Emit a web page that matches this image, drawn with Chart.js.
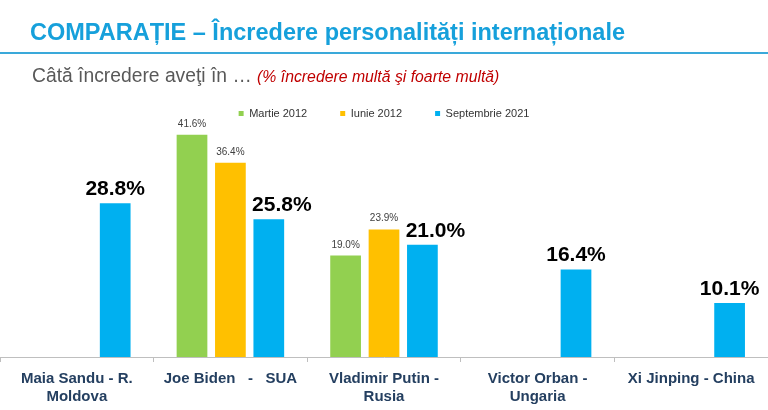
<!DOCTYPE html>
<html>
<head>
<meta charset="utf-8">
<script src="https://cdn.jsdelivr.net/npm/chart.js@4"></script>
<style>
  body { margin: 0; background: #fff; }
  #wrap { position: relative; width: 768px; height: 410px; overflow: hidden; }
  #title { position: absolute; left: 30px; top: 19px; font-family: Arial, 'Liberation Sans', sans-serif; font-weight: bold; font-size: 23.5px; color: #16a0db; white-space: nowrap; }
  #rule { position: absolute; left: 0; top: 52px; width: 768px; height: 2px; background: #3aa9da; }
  #sub { position: absolute; left: 32px; top: 65px; font-family: Arial, 'Liberation Sans', sans-serif; font-size: 19.3px; color: #595959; white-space: nowrap; }
  #sub i { font-size: 15.8px; color: #c00000; }
  canvas { position: absolute; left: 0; top: 0; }
</style>
</head>
<body>
<div id="wrap">
  <canvas id="chart" width="768" height="414"></canvas>
  <div id="title">COMPARAȚIE – Încredere personalități internaționale</div>
  <div id="rule"></div>
  <div id="sub">Câtă încredere aveţi în … <i>(% încredere multă şi foarte multă)</i></div>
</div>
<script>
const categories = [
  ['Maia Sandu - R.', 'Moldova'],
  'Joe Biden   -   SUA',
  ['Vladimir Putin -', 'Rusia'],
  ['Victor Orban -', 'Ungaria'],
  'Xi Jinping - China'
]
const seriesNames = ['Martie 2012', 'Iunie 2012', 'Septembrie 2021']
const martie2012 = [null, 41.6, 19.0, null, null]
const iunie2012 = [null, 36.4, 23.9, null, null]
const septembrie2021 = [28.8, 25.8, 21.0, 16.4, 10.1]

// labels above the bars: small grey for 2012, big bold for 2021
const valueLabels = {
  id: 'valueLabels',
  afterDatasetsDraw(chart) {
    const ctx = chart.ctx
    ctx.save()
    ctx.textAlign = 'center'
    ctx.textBaseline = 'alphabetic'
    chart.data.datasets.forEach((ds, i) => {
      const meta = chart.getDatasetMeta(i)
      const big = i === 2
      ctx.font = big ? 'bold 21px Arial, "Liberation Sans"' : '10px Arial, "Liberation Sans"'
      ctx.fillStyle = big ? '#000' : '#404040'
      meta.data.forEach((bar, j) => {
        const v = ds.data[j]
        if (v == null) return
        // the big label slides right when the 2012 bars sit next to it
        const dx = big && iunie2012[j] != null ? 13 : 0
        ctx.fillText(v.toFixed(1) + '%', bar.x + dx, bar.y - 8)
      })
    })
    ctx.restore()
  }
}

const ctx = document.getElementById('chart').getContext('2d')
const myChart = new Chart(ctx, {
  type: 'bar',
  data: {
    labels: categories,
    datasets: [
      { label: seriesNames[0], data: martie2012, backgroundColor: '#92d050' },
      { label: seriesNames[1], data: iunie2012, backgroundColor: '#ffc000' },
      { label: seriesNames[2], data: septembrie2021, backgroundColor: '#00b0f0' }
    ]
  },
  options: {
    responsive: false,
    animation: false,
    layout: { padding: { top: 75, left: 0, right: 0, bottom: 0 } },
    datasets: { bar: { categoryPercentage: 0.75, barPercentage: 0.8 } },
    plugins: {
      legend: {
        labels: {
          boxWidth: 5, boxHeight: 5, padding: 33,
          color: '#333', font: { size: 11, family: 'Arial' }
        }
      },
      tooltip: { enabled: false }
    },
    scales: {
      x: {
        grid: { drawOnChartArea: false, color: '#bfbfbf', tickLength: 5 },
        border: { color: '#bfbfbf' },
        ticks: {
          color: '#243f60', padding: 8,
          maxRotation: 0, autoSkip: false,
          font: { size: 15, weight: 'bold', family: 'Arial', lineHeight: 1.2 }
        }
      },
      y: { display: false, min: 0, max: 42.7 }
    }
  },
  plugins: [valueLabels]
})
</script>
</body>
</html>
